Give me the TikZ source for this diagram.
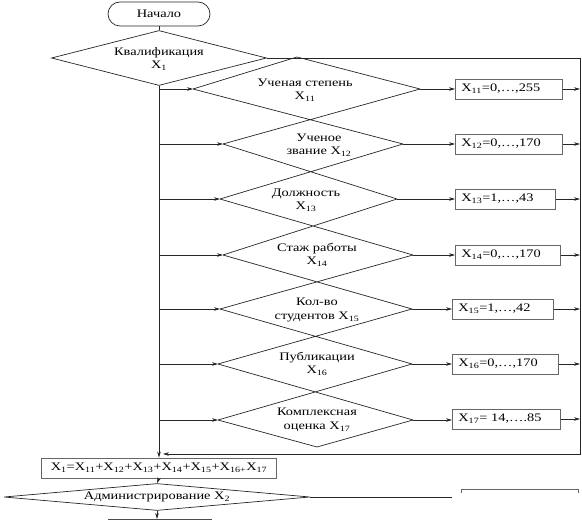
\documentclass[tikz,border=0pt]{standalone}
\usepackage{fontspec}
\setmainfont{Liberation Serif}[FakeStretch=1.25]
\usetikzlibrary{shapes.geometric,arrows.meta}
\begin{document}
\begin{tikzpicture}[x=1pt,y=-1pt,
  every node/.style={font=\fontsize{11.5}{13.5}\selectfont, align=center, inner sep=0pt},
  ln/.style={line width=0.7pt, draw=black!85},
  arr/.style={ln, -{Stealth[length=6pt,width=3.6pt]}},
  valbox/.style={draw=black!60, line width=0.7pt, minimum height=20pt, anchor=west, text width=95pt, align=left, inner xsep=6pt},
  dia/.style={diamond, draw=black!85, line width=0.7pt, inner sep=0pt},
  lbl/.style={font=\fontsize{11.5}{13.5}\selectfont}
]
\useasboundingbox (0,0) rectangle (582,521);

% start
\node[draw=black!85, line width=0.7pt, rounded corners=12pt, minimum width=102pt, minimum height=24pt] (start) at (159,14) {Начало};
\node[dia, minimum width=215pt, minimum height=55pt] (K) at (159,58) {};
\node[lbl] (Kt) at (159,59) {Квалификация\\X\textsubscript{1}};
\draw[ln] (start) -- (K.north);

% row tips
\coordinate (top1) at (297,57);
\coordinate (L1) at (193,89);  \coordinate (R1) at (420,89);
\coordinate (L2) at (223,144); \coordinate (R2) at (403,144);
\coordinate (L3) at (220,199); \coordinate (R3) at (397,199);
\coordinate (L4) at (223,255); \coordinate (R4) at (413,255);
\coordinate (L5) at (220,309); \coordinate (R5) at (412,309);
\coordinate (L6) at (218,364); \coordinate (R6) at (412,364);
\coordinate (L7) at (218,420); \coordinate (R7) at (413,420);
\coordinate (bot7) at (317,447);

% lattice of diamonds
\draw[ln] (L1) -- (top1) -- (R1);
\draw[ln] (L1) -- (R2) (R1) -- (L2);
\draw[ln] (L2) -- (R3) (R2) -- (L3);
\draw[ln] (L3) -- (R4) (R3) -- (L4);
\draw[ln] (L4) -- (R5) (R4) -- (L5);
\draw[ln] (L5) -- (R6) (R5) -- (L6);
\draw[ln] (L6) -- (R7) (R6) -- (L7);
\draw[ln] (L7) -- (bot7) -- (R7);

% labels
\node[lbl] (T1) at (305,90) {Ученая степень\\X\textsubscript{11}};
\node[lbl] (T2) at (319,145) {Ученое\\звание X\textsubscript{12}};
\node[lbl] (T3) at (306,200) {Должность\\X\textsubscript{13}};
\node[lbl] (T4) at (317,255) {Стаж работы\\X\textsubscript{14}};
\node[lbl] (T5) at (317,310) {Кол-во\\студентов X\textsubscript{15}};
\node[lbl] (T6) at (317,364) {Публикации\\X\textsubscript{16}};
\node[lbl] (T7) at (317,420) {Комплексная\\оценка X\textsubscript{17}};

% value boxes
\node[valbox, minimum width=107pt] (B1) at (455,89) {X\textsubscript{11}=0,…,255};
\node[valbox, minimum width=107pt] (B2) at (455,144) {X\textsubscript{12}=0,…,170};
\node[valbox, minimum width=100pt, text width=88pt] (B3) at (455,199) {X\textsubscript{13}=1,…,43};
\node[valbox, minimum width=105pt, text width=93pt] (B4) at (455,255) {X\textsubscript{14}=0,…,170};
\node[valbox, minimum width=101pt, text width=89pt] (B5) at (452,309) {X\textsubscript{15}=1,…,42};
\node[valbox, minimum width=106pt, text width=94pt] (B6) at (452,364) {X\textsubscript{16}=0,…,170};
\node[valbox, minimum width=108pt, text width=96pt] (B7) at (452,419) {X\textsubscript{17}= 14,….85};

% right collector line
\coordinate (rtop) at (580,58);
\coordinate (rbot) at (580,454);
\coordinate (ret) at (163,454);
\foreach \i/\y in {1/89,2/144,3/199,4/255,5/309,6/364,7/419}{
  \coordinate (r\i) at (580,\y);
}
\draw[arr] (K.east) -- (rtop) -- (rbot) -- (ret);

% sum box
\node[draw=black!60, line width=0.7pt, minimum width=235pt, minimum height=20pt] (S) at (159,468) {X\textsubscript{1}=X\textsubscript{11}+X\textsubscript{12}+X\textsubscript{13}+X\textsubscript{14}+X\textsubscript{15}+X\textsubscript{16+}X\textsubscript{17}};

% main vertical and branches
\draw[arr] (K.south) -- (S.north);
\foreach \i/\y in {1/89,2/144,3/199,4/255,5/309,6/364,7/420}{
  \coordinate (b\i) at (159,\y);
  \draw[arr] (b\i) -- (L\i);
}
\foreach \i in {1,...,7}{
  \draw[arr] (R\i) -- (B\i.west |- R\i);
  \draw[arr] (B\i.east) -- (r\i);
}

% administration
\node[dia, minimum width=306pt, minimum height=27pt] (A) at (157,497) {};
\node[lbl] (At) at (157,497) {Администрирование X\textsubscript{2}};
\draw[arr] (S.south) -- (A.north);
\coordinate (Aend) at (452,497);
\draw[ln] (A.east) -- (Aend);
% partially visible next shapes
\coordinate (nb1) at (461,493);
\coordinate (nb2) at (461,489);
\coordinate (nb3) at (578,489);
\coordinate (nb4) at (578,493);
\draw[draw=black!60, line width=0.7pt] (nb1) -- (nb2) -- (nb3) -- (nb4);
\coordinate (nx) at (157,519);
\coordinate (nl) at (108,519);
\coordinate (nr) at (212,519);
\draw[arr] (A.south) -- (nx);
\draw[draw=black!70, line width=0.8pt] (nl) -- (nr);
\end{tikzpicture}
\end{document}
